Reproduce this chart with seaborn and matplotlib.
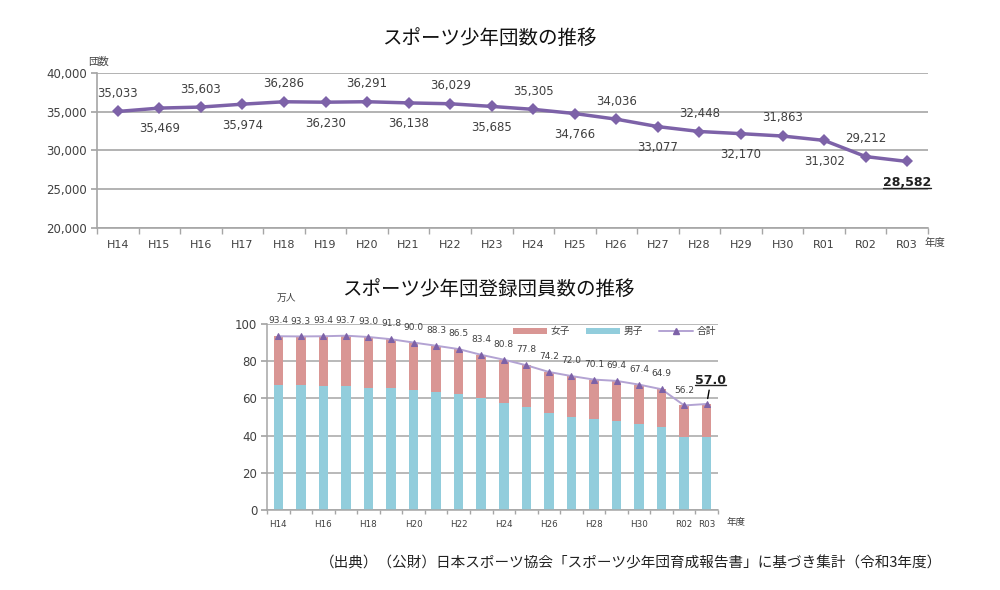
import numpy as np
import pandas as pd
import matplotlib
matplotlib.use('Agg')
import matplotlib.pyplot as plt
import matplotlib.text as mtext
import seaborn as sns
from matplotlib.patches import Patch
from matplotlib.lines import Line2D
from matplotlib.ticker import FuncFormatter

# ---------------- data ----------------
years = ['H14', 'H15', 'H16', 'H17', 'H18', 'H19', 'H20', 'H21', 'H22', 'H23',
         'H24', 'H25', 'H26', 'H27', 'H28', 'H29', 'H30', 'R01', 'R02', 'R03']
teams = [35033, 35469, 35603, 35974, 36286, 36230, 36291, 36138, 36029, 35685,
         35305, 34766, 34036, 33077, 32448, 32170, 31863, 31302, 29212, 28582]
total = [93.4, 93.3, 93.4, 93.7, 93.0, 91.8, 90.0, 88.3, 86.5, 83.4,
         80.8, 77.8, 74.2, 72.0, 70.1, 69.4, 67.4, 64.9, 56.2, 57.0]
boys = [67.4, 67.1, 66.5, 66.5, 65.8, 65.5, 64.4, 63.4, 62.2, 60.0,
        57.6, 55.1, 52.1, 50.2, 48.7, 47.6, 46.4, 44.5, 39.2, 39.3]
girls = [26.0, 26.2, 26.9, 27.2, 27.2, 26.3, 25.6, 24.9, 24.3, 23.4,
         23.2, 22.7, 22.1, 21.8, 21.4, 21.8, 21.0, 20.4, 17.0, 17.7]

title1 = 'スポーツ少年団数の推移'
title2 = 'スポーツ少年団登録団員数の推移'
source = '（出典）（公財）日本スポーツ協会「スポーツ少年団育成報告書」に基づき集計（令和3年度）'

# ---------------- style ----------------
purple = '#7D62A8'
light_purple = '#B3A3D3'
pink = '#D99694'
blue = '#92CDDC'
grid_c = '#A6A6A6'
txt = '#404040'

sns.set_theme(style='white')
plt.rcParams['font.family'] = ['DejaVu Sans', 'Noto Sans CJK JP']

n = len(years)
fig = plt.figure(figsize=(10, 5.9), dpi=100)

# ---------------- top chart ----------------
ax1 = fig.add_axes([0.097, 0.6136, 0.831, 0.2627])
ax1.set_axisbelow(True)
df1 = pd.DataFrame({'pos': np.arange(n), 'teams': teams})
sns.lineplot(data=df1, x='pos', y='teams', ax=ax1, color=purple, lw=2.5,
             marker='D', markersize=6, markeredgewidth=0)
ax1.set_xlim(-0.5, n - 0.5)
ax1.set_ylim(20000, 40000)
ax1.set_yticks(range(20000, 40001, 5000))
ax1.yaxis.set_major_formatter(FuncFormatter(lambda v, p: f'{int(v):,}'))
ax1.set_xticks(np.arange(n))
ax1.set_xticklabels(years)
ax1.set_xticks(np.arange(n + 1) - 0.5, minor=True)
ax1.tick_params(axis='x', which='major', bottom=True, length=0, pad=9,
                labelsize=8, labelcolor=txt)
ax1.tick_params(axis='x', which='minor', bottom=True, length=4,
                direction='out', color=grid_c)
ax1.tick_params(axis='y', left=True, length=4, direction='out', color=grid_c,
                labelsize=8.5, labelcolor=txt, pad=3)
ax1.grid(axis='y', color=grid_c, lw=1.2)
ax1.grid(axis='x', visible=False)
for s in ['top', 'right']:
    ax1.spines[s].set_visible(False)
for s in ['left', 'bottom']:
    ax1.spines[s].set_color(grid_c)
    ax1.spines[s].set_linewidth(1.2)
ax1.set_xlabel('')
ax1.set_ylabel('')

for i, v in enumerate(teams[:-1]):
    off = 13 if i % 2 == 0 else -15
    ax1.annotate(f'{v:,}', (i, v), xytext=(0, off), textcoords='offset points',
                 ha='center', va='center', fontsize=8.5, color=txt)
last1 = ax1.annotate(f'{teams[-1]:,}', (n - 1, teams[-1]), xytext=(0, -15.5),
                     textcoords='offset points', ha='center', va='center',
                     fontsize=9, fontweight='bold', color='#202020')

fig.text(0.489, 1 - 38 / 590, title1, ha='center', va='center', fontsize=14,
         color='#111111')
fig.text(0.099, 1 - 62 / 590, '団数', ha='center', va='center', fontsize=7.5,
         color=txt)
fig.text(0.935, 1 - 243 / 590, '年度', ha='center', va='center', fontsize=7.5,
         color=txt)

# ---------------- bottom chart ----------------
ax2 = fig.add_axes([0.267, 0.1356, 0.451, 0.3153])
ax2.set_axisbelow(True)
df2 = pd.DataFrame({'year': years, 'boys': boys, 'girls': girls})
df2['stack'] = df2['boys'] + df2['girls']
sns.barplot(data=df2, x='year', y='stack', color=pink, width=0.42,
            saturation=1, ax=ax2, zorder=2, linewidth=0, edgecolor='none')
sns.barplot(data=df2, x='year', y='boys', color=blue, width=0.42,
            saturation=1, ax=ax2, zorder=2, linewidth=0, edgecolor='none')
sns.lineplot(x=np.arange(n), y=total, ax=ax2, color=light_purple, lw=1.4,
             marker='^', markersize=5, markerfacecolor=purple,
             markeredgecolor=purple, zorder=3)
ax2.set_xlim(-0.5, n - 0.5)
ax2.set_ylim(0, 100)
ax2.set_yticks(range(0, 101, 20))
ax2.set_xticks(np.arange(n))
ax2.set_xticklabels([y if (i % 2 == 0 or i == n - 1) else ''
                     for i, y in enumerate(years)])
ax2.set_xticks(np.arange(n + 1) - 0.5, minor=True)
ax2.tick_params(axis='x', which='major', bottom=True, length=0, pad=7,
                labelsize=6.3, labelcolor=txt)
ax2.tick_params(axis='x', which='minor', bottom=True, length=3,
                direction='out', color=grid_c)
ax2.tick_params(axis='y', left=True, length=4, direction='out', color=grid_c,
                labelsize=8.5, labelcolor=txt, pad=3)
ax2.grid(axis='y', color=grid_c, lw=1.1)
ax2.grid(axis='x', visible=False)
for s in ['top', 'right']:
    ax2.spines[s].set_visible(False)
for s in ['left', 'bottom']:
    ax2.spines[s].set_color(grid_c)
    ax2.spines[s].set_linewidth(1.1)
ax2.set_xlabel('')
ax2.set_ylabel('')

for i, v in enumerate(total[:-1]):
    ax2.annotate(f'{v:.1f}', (i, v), xytext=(0, 11), textcoords='offset points',
                 ha='center', va='center', fontsize=6.5, color=txt)
last2 = ax2.annotate(f'{total[-1]:.1f}', (n - 1, total[-1]), xytext=(3, 17),
                     textcoords='offset points', ha='center', va='center',
                     fontsize=9, fontweight='bold', color='#202020',
                     arrowprops=dict(arrowstyle='-', color='black', lw=1,
                                     shrinkA=0, shrinkB=4))

handles = [Patch(facecolor=pink, edgecolor='none', label='女子'),
           Patch(facecolor=blue, edgecolor='none', label='男子'),
           Line2D([0], [0], color=light_purple, lw=1.4, marker='^',
                  markersize=4.5, markerfacecolor=purple,
                  markeredgecolor=purple, label='合計')]
ax2.legend(handles=handles, ncol=3, loc='center',
           bbox_to_anchor=(0.77, 0.962), frameon=False, fontsize=7,
           handlelength=3.5, handleheight=0.6, columnspacing=1.6,
           handletextpad=0.4, labelcolor=txt)

fig.text(0.488, 1 - 289 / 590, title2, ha='center', va='center', fontsize=14,
         color='#111111')
fig.text(0.286, 1 - 298 / 590, '万人', ha='center', va='center', fontsize=7,
         color=txt)
fig.text(0.736, 1 - 523 / 590, '年度', ha='center', va='center', fontsize=6.8,
         color=txt)

fig.text(0.942, 1 - 563 / 590, source, ha='right', va='center',
         fontsize=10.5, color='#222222', family=['Noto Sans CJK JP', 'DejaVu Sans'])

# underline the latest values (text extent only, without the leader line)
fig.canvas.draw()
renderer = fig.canvas.get_renderer()
inv = fig.transFigure.inverted()
for t in (last1, last2):
    bb = mtext.Text.get_window_extent(t, renderer)
    (x0, y0), (x1, _) = inv.transform([(bb.x0, bb.y0 + 1.5), (bb.x1, bb.y0)])
    fig.add_artist(Line2D([x0, x1], [y0, y0], transform=fig.transFigure,
                          color='#202020', lw=1))

fig.savefig('out.png', dpi=100)
